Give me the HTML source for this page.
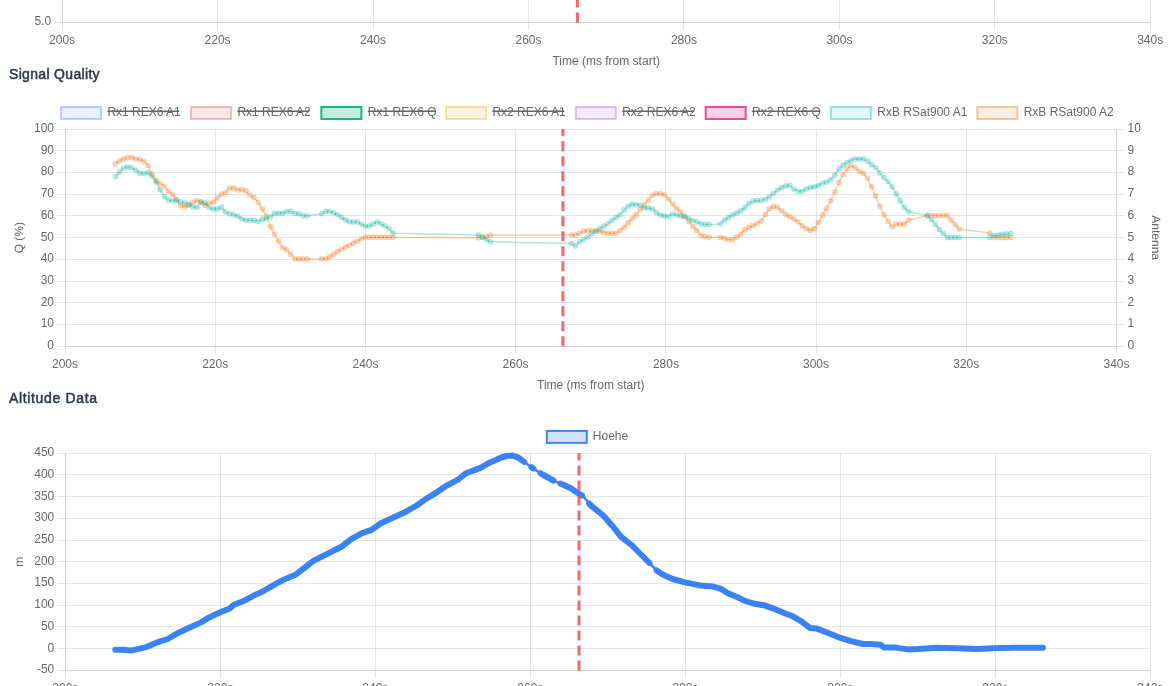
<!DOCTYPE html>
<html><head><meta charset="utf-8"><title>Flight Log</title>
<style>
html,body{margin:0;padding:0;background:#fff;width:1170px;height:686px;overflow:hidden}
svg{display:block;will-change:transform}
.t{font-family:"Liberation Sans",sans-serif;font-size:12px;fill:#666}
.h{font-family:"Liberation Sans",sans-serif;font-size:14px;font-weight:normal;fill:#2d3748;stroke:#2d3748;stroke-width:0.5px}
</style></head><body>
<svg width="1170" height="686" viewBox="0 0 1170 686">
<line x1="62.5" y1="-5" x2="62.5" y2="30" stroke="rgba(0,0,0,0.1)"/>
<text x="62.1" y="44.3" text-anchor="middle" class="t">200s</text>
<line x1="217.5" y1="-5" x2="217.5" y2="30" stroke="rgba(0,0,0,0.1)"/>
<text x="217.6" y="44.3" text-anchor="middle" class="t">220s</text>
<line x1="373.5" y1="-5" x2="373.5" y2="30" stroke="rgba(0,0,0,0.1)"/>
<text x="373" y="44.3" text-anchor="middle" class="t">240s</text>
<line x1="528.5" y1="-5" x2="528.5" y2="30" stroke="rgba(0,0,0,0.1)"/>
<text x="528.5" y="44.3" text-anchor="middle" class="t">260s</text>
<line x1="683.5" y1="-5" x2="683.5" y2="30" stroke="rgba(0,0,0,0.1)"/>
<text x="683.9" y="44.3" text-anchor="middle" class="t">280s</text>
<line x1="839.5" y1="-5" x2="839.5" y2="30" stroke="rgba(0,0,0,0.1)"/>
<text x="839.4" y="44.3" text-anchor="middle" class="t">300s</text>
<line x1="994.5" y1="-5" x2="994.5" y2="30" stroke="rgba(0,0,0,0.1)"/>
<text x="994.8" y="44.3" text-anchor="middle" class="t">320s</text>
<line x1="1150.5" y1="-5" x2="1150.5" y2="30" stroke="rgba(0,0,0,0.1)"/>
<text x="1150.2" y="44.3" text-anchor="middle" class="t">340s</text>
<line x1="54.1" y1="22.5" x2="1150.5" y2="22.5" stroke="rgba(0,0,0,0.1)"/>
<line x1="62.5" y1="22.5" x2="1150.5" y2="22.5" stroke="#cfcfcf"/>
<line x1="62.5" y1="-5" x2="62.5" y2="22.5" stroke="#cfcfcf"/>
<text x="51.1" y="25.2" text-anchor="end" class="t">5.0</text>
<text x="606.2" y="65.4" text-anchor="middle" class="t">Time (ms from start)</text>
<text x="9" y="78.5" class="h" textLength="90.6" lengthAdjust="spacing">Signal Quality</text>
<text x="8.9" y="402.9" class="h" textLength="88.1" lengthAdjust="spacing">Altitude Data</text>
<line x1="57" y1="346.5" x2="1124.5" y2="346.5" stroke="rgba(0,0,0,0.1)"/>
<text x="54" y="349.2" text-anchor="end" class="t">0</text>
<text x="1127.5" y="349.2" class="t">0</text>
<line x1="57" y1="324.5" x2="1124.5" y2="324.5" stroke="rgba(0,0,0,0.1)"/>
<text x="54" y="327.4" text-anchor="end" class="t">10</text>
<text x="1127.5" y="327.4" class="t">1</text>
<line x1="57" y1="302.5" x2="1124.5" y2="302.5" stroke="rgba(0,0,0,0.1)"/>
<text x="54" y="305.7" text-anchor="end" class="t">20</text>
<text x="1127.5" y="305.7" class="t">2</text>
<line x1="57" y1="281.5" x2="1124.5" y2="281.5" stroke="rgba(0,0,0,0.1)"/>
<text x="54" y="284" text-anchor="end" class="t">30</text>
<text x="1127.5" y="284" class="t">3</text>
<line x1="57" y1="259.5" x2="1124.5" y2="259.5" stroke="rgba(0,0,0,0.1)"/>
<text x="54" y="262.3" text-anchor="end" class="t">40</text>
<text x="1127.5" y="262.3" class="t">4</text>
<line x1="57" y1="237.5" x2="1124.5" y2="237.5" stroke="rgba(0,0,0,0.1)"/>
<text x="54" y="240.6" text-anchor="end" class="t">50</text>
<text x="1127.5" y="240.6" class="t">5</text>
<line x1="57" y1="215.5" x2="1124.5" y2="215.5" stroke="rgba(0,0,0,0.1)"/>
<text x="54" y="218.8" text-anchor="end" class="t">60</text>
<text x="1127.5" y="218.8" class="t">6</text>
<line x1="57" y1="194.5" x2="1124.5" y2="194.5" stroke="rgba(0,0,0,0.1)"/>
<text x="54" y="197.1" text-anchor="end" class="t">70</text>
<text x="1127.5" y="197.1" class="t">7</text>
<line x1="57" y1="172.5" x2="1124.5" y2="172.5" stroke="rgba(0,0,0,0.1)"/>
<text x="54" y="175.4" text-anchor="end" class="t">80</text>
<text x="1127.5" y="175.4" class="t">8</text>
<line x1="57" y1="150.5" x2="1124.5" y2="150.5" stroke="rgba(0,0,0,0.1)"/>
<text x="54" y="153.7" text-anchor="end" class="t">90</text>
<text x="1127.5" y="153.7" class="t">9</text>
<line x1="57" y1="129.5" x2="1124.5" y2="129.5" stroke="rgba(0,0,0,0.1)"/>
<text x="54" y="132" text-anchor="end" class="t">100</text>
<text x="1127.5" y="132" class="t">10</text>
<line x1="65.5" y1="129.5" x2="65.5" y2="354" stroke="rgba(0,0,0,0.1)"/>
<text x="65" y="368.2" text-anchor="middle" class="t">200s</text>
<line x1="215.5" y1="129.5" x2="215.5" y2="354" stroke="rgba(0,0,0,0.1)"/>
<text x="215.2" y="368.2" text-anchor="middle" class="t">220s</text>
<line x1="365.5" y1="129.5" x2="365.5" y2="354" stroke="rgba(0,0,0,0.1)"/>
<text x="365.5" y="368.2" text-anchor="middle" class="t">240s</text>
<line x1="515.5" y1="129.5" x2="515.5" y2="354" stroke="rgba(0,0,0,0.1)"/>
<text x="515.6" y="368.2" text-anchor="middle" class="t">260s</text>
<line x1="665.5" y1="129.5" x2="665.5" y2="354" stroke="rgba(0,0,0,0.1)"/>
<text x="665.9" y="368.2" text-anchor="middle" class="t">280s</text>
<line x1="816.5" y1="129.5" x2="816.5" y2="354" stroke="rgba(0,0,0,0.1)"/>
<text x="816" y="368.2" text-anchor="middle" class="t">300s</text>
<line x1="966.5" y1="129.5" x2="966.5" y2="354" stroke="rgba(0,0,0,0.1)"/>
<text x="966.2" y="368.2" text-anchor="middle" class="t">320s</text>
<line x1="1116.5" y1="129.5" x2="1116.5" y2="354" stroke="rgba(0,0,0,0.1)"/>
<text x="1116.5" y="368.2" text-anchor="middle" class="t">340s</text>
<line x1="65.5" y1="129.5" x2="65.5" y2="346.5" stroke="#cfcfcf"/>
<line x1="1116.5" y1="129.5" x2="1116.5" y2="346.5" stroke="#cfcfcf"/>
<line x1="65.5" y1="346.5" x2="1116.5" y2="346.5" stroke="#cfcfcf"/>
<text x="590.8" y="389.3" text-anchor="middle" class="t">Time (ms from start)</text>
<text transform="translate(23.3 237.7) rotate(-90)" text-anchor="middle" class="t" text-rendering="geometricPrecision">Q (%)</text>
<text transform="translate(1152.3 237.7) rotate(90)" text-anchor="middle" class="t" text-rendering="geometricPrecision">Antenna</text>
<rect x="61" y="107" width="40" height="12" fill="rgba(59,130,246,0.12)" stroke="rgba(59,130,246,0.35)" stroke-width="2"/>
<text x="107.4" y="116" class="t">Rx1 REX6 A1</text>
<line x1="107.4" y1="111.3" x2="179.3" y2="111.3" stroke="#666" stroke-width="1.5"/>
<rect x="191" y="107" width="40" height="12" fill="rgba(239,68,68,0.12)" stroke="rgba(239,68,68,0.35)" stroke-width="2"/>
<text x="237.4" y="116" class="t">Rx1 REX6 A2</text>
<line x1="237.4" y1="111.3" x2="309.3" y2="111.3" stroke="#666" stroke-width="1.5"/>
<rect x="321.4" y="107" width="40" height="12" fill="rgba(16,185,129,0.25)" stroke="#10b981" stroke-width="2"/>
<text x="367.8" y="116" class="t">Rx1 REX6 Q</text>
<line x1="367.8" y1="111.3" x2="435" y2="111.3" stroke="#666" stroke-width="1.5"/>
<rect x="446" y="107" width="40" height="12" fill="rgba(245,158,11,0.12)" stroke="rgba(245,158,11,0.35)" stroke-width="2"/>
<text x="492.4" y="116" class="t">Rx2 REX6 A1</text>
<line x1="492.4" y1="111.3" x2="564.3" y2="111.3" stroke="#666" stroke-width="1.5"/>
<rect x="575.8" y="107" width="40" height="12" fill="rgba(139,92,246,0.12)" stroke="rgba(139,92,246,0.35)" stroke-width="2"/>
<text x="622.2" y="116" class="t">Rx2 REX6 A2</text>
<line x1="622.2" y1="111.3" x2="694.1" y2="111.3" stroke="#666" stroke-width="1.5"/>
<rect x="705.7" y="107" width="40" height="12" fill="rgba(236,72,153,0.25)" stroke="#ec4899" stroke-width="2"/>
<text x="752.1" y="116" class="t">Rx2 REX6 Q</text>
<line x1="752.1" y1="111.3" x2="819.3" y2="111.3" stroke="#666" stroke-width="1.5"/>
<rect x="830.9" y="107" width="40" height="12" fill="rgba(20,184,166,0.12)" stroke="rgba(20,184,166,0.4)" stroke-width="2"/>
<text x="877.3" y="116" class="t">RxB RSat900 A1</text>
<rect x="977.3" y="107" width="40" height="12" fill="rgba(249,115,22,0.12)" stroke="rgba(249,115,22,0.4)" stroke-width="2"/>
<text x="1023.7" y="116" class="t">RxB RSat900 A2</text>
<polyline points="115.3,163.7 119.4,160.9 123.5,158.9 127.5,157.6 131.6,157.5 135.7,159 139.8,159.4 143.9,161.3 148,165.5 152,174.1 156.1,180.4 160.2,183.8 164.3,186.3 168.4,190.9 172.5,194.8 176.5,200 180.6,205.8 184.7,207 188.8,205.2 192.9,202.5 197,200.5 201,202 205.1,205.5 209.2,203.2 213.3,202.2 217.4,197.7 221.5,194 225.5,192.4 229.6,188.1 233.7,188 237.8,189.9 241.9,189.6 246,191 250,195.1 254.1,197.5 258.2,202.5 262.3,208.9 266.4,216.2 270.5,226.8 274.5,234.3 278.6,241.2 282.7,247.6 286.8,249.8 290.9,254.4 295,259 299,259 303.1,259 307.2,259 321.7,259 325.7,259 329.6,257.1 333.6,254.4 337.5,251.6 341.5,249.2 345.5,247.2 349.4,245.2 353.4,243.2 357.4,241.2 361.3,238.7 365.3,237.3 369.2,237.3 373.2,237.3 377.2,237.3 381.1,237.3 385.1,237.3 389,237.3 393,237.3 478.5,237.7 482.5,237.4 486.5,236.4 490.5,235.1 571.5,235 575.5,235 579.6,233.2 583.6,230.9 587.7,230.8 591.7,230.8 595.8,231 599.8,231.2 603.9,232.3 607.9,233.3 611.9,233.3 616,233.1 620,230.6 624.1,227.3 628.1,222.8 632.2,218.5 636.2,214.6 640.2,209.6 644.3,204.7 648.3,199.7 652.4,195.3 656.4,193.7 660.5,193.7 664.5,194.8 668.6,199.1 672.6,204 676.6,208.5 680.7,212.1 684.7,216.4 688.8,221.3 692.8,226.4 696.9,230.5 700.9,235.5 705,236.5 709,237.3 720.3,237.3 724.4,238.4 728.5,239.6 732.6,239.5 736.7,237.2 740.7,234.1 744.8,229.8 748.9,227.6 753,225.5 757.1,223.4 761.2,220.9 765.3,214.8 769.4,208.7 773.5,206.4 777.5,207.4 781.6,210.8 785.7,214.4 789.8,216.8 793.9,219.1 798,221.9 802.1,225.8 806.2,228.5 810.3,230.6 814.3,228.6 818.4,222.4 822.5,215.1 826.6,208.4 830.7,200.8 834.8,191.9 838.9,182.7 843,174.5 847.1,168.8 851.2,165.4 855.2,167.9 859.3,171.4 863.4,173.5 867.5,178.2 871.6,186.6 875.7,196.1 879.8,206.2 883.9,214.7 888,221.4 892,226.8 896.1,224 900.2,224.1 904.3,224.2 908.4,220.1 927.5,215.6 931.4,215.6 935.4,215.6 939.3,215.6 943.2,215.6 947.2,215.6 951.1,220.3 955.1,224.4 959,228.9 989.7,233 993.9,237.5 998,237.5 1002.2,237.5 1006.3,237.5 1010.5,237.5" fill="none" stroke="rgba(249,115,22,0.35)" stroke-width="1.5" stroke-linejoin="round"/>
<g fill="rgba(249,115,22,0.25)" stroke="rgba(249,115,22,0.25)" stroke-width="1">
<circle cx="115.3" cy="163.7" r="2.5"/>
<circle cx="119.4" cy="160.9" r="2.5"/>
<circle cx="123.5" cy="158.9" r="2.5"/>
<circle cx="127.5" cy="157.6" r="2.5"/>
<circle cx="131.6" cy="157.5" r="2.5"/>
<circle cx="135.7" cy="159" r="2.5"/>
<circle cx="139.8" cy="159.4" r="2.5"/>
<circle cx="143.9" cy="161.3" r="2.5"/>
<circle cx="148" cy="165.5" r="2.5"/>
<circle cx="152" cy="174.1" r="2.5"/>
<circle cx="156.1" cy="180.4" r="2.5"/>
<circle cx="160.2" cy="183.8" r="2.5"/>
<circle cx="164.3" cy="186.3" r="2.5"/>
<circle cx="168.4" cy="190.9" r="2.5"/>
<circle cx="172.5" cy="194.8" r="2.5"/>
<circle cx="176.5" cy="200" r="2.5"/>
<circle cx="180.6" cy="205.8" r="2.5"/>
<circle cx="184.7" cy="207" r="2.5"/>
<circle cx="188.8" cy="205.2" r="2.5"/>
<circle cx="192.9" cy="202.5" r="2.5"/>
<circle cx="197" cy="200.5" r="2.5"/>
<circle cx="201" cy="202" r="2.5"/>
<circle cx="205.1" cy="205.5" r="2.5"/>
<circle cx="209.2" cy="203.2" r="2.5"/>
<circle cx="213.3" cy="202.2" r="2.5"/>
<circle cx="217.4" cy="197.7" r="2.5"/>
<circle cx="221.5" cy="194" r="2.5"/>
<circle cx="225.5" cy="192.4" r="2.5"/>
<circle cx="229.6" cy="188.1" r="2.5"/>
<circle cx="233.7" cy="188" r="2.5"/>
<circle cx="237.8" cy="189.9" r="2.5"/>
<circle cx="241.9" cy="189.6" r="2.5"/>
<circle cx="246" cy="191" r="2.5"/>
<circle cx="250" cy="195.1" r="2.5"/>
<circle cx="254.1" cy="197.5" r="2.5"/>
<circle cx="258.2" cy="202.5" r="2.5"/>
<circle cx="262.3" cy="208.9" r="2.5"/>
<circle cx="266.4" cy="216.2" r="2.5"/>
<circle cx="270.5" cy="226.8" r="2.5"/>
<circle cx="274.5" cy="234.3" r="2.5"/>
<circle cx="278.6" cy="241.2" r="2.5"/>
<circle cx="282.7" cy="247.6" r="2.5"/>
<circle cx="286.8" cy="249.8" r="2.5"/>
<circle cx="290.9" cy="254.4" r="2.5"/>
<circle cx="295" cy="259" r="2.5"/>
<circle cx="299" cy="259" r="2.5"/>
<circle cx="303.1" cy="259" r="2.5"/>
<circle cx="307.2" cy="259" r="2.5"/>
<circle cx="321.7" cy="259" r="2.5"/>
<circle cx="325.7" cy="259" r="2.5"/>
<circle cx="329.6" cy="257.1" r="2.5"/>
<circle cx="333.6" cy="254.4" r="2.5"/>
<circle cx="337.5" cy="251.6" r="2.5"/>
<circle cx="341.5" cy="249.2" r="2.5"/>
<circle cx="345.5" cy="247.2" r="2.5"/>
<circle cx="349.4" cy="245.2" r="2.5"/>
<circle cx="353.4" cy="243.2" r="2.5"/>
<circle cx="357.4" cy="241.2" r="2.5"/>
<circle cx="361.3" cy="238.7" r="2.5"/>
<circle cx="365.3" cy="237.3" r="2.5"/>
<circle cx="369.2" cy="237.3" r="2.5"/>
<circle cx="373.2" cy="237.3" r="2.5"/>
<circle cx="377.2" cy="237.3" r="2.5"/>
<circle cx="381.1" cy="237.3" r="2.5"/>
<circle cx="385.1" cy="237.3" r="2.5"/>
<circle cx="389" cy="237.3" r="2.5"/>
<circle cx="393" cy="237.3" r="2.5"/>
<circle cx="478.5" cy="237.7" r="2.5"/>
<circle cx="482.5" cy="237.4" r="2.5"/>
<circle cx="486.5" cy="236.4" r="2.5"/>
<circle cx="490.5" cy="235.1" r="2.5"/>
<circle cx="571.5" cy="235" r="2.5"/>
<circle cx="575.5" cy="235" r="2.5"/>
<circle cx="579.6" cy="233.2" r="2.5"/>
<circle cx="583.6" cy="230.9" r="2.5"/>
<circle cx="587.7" cy="230.8" r="2.5"/>
<circle cx="591.7" cy="230.8" r="2.5"/>
<circle cx="595.8" cy="231" r="2.5"/>
<circle cx="599.8" cy="231.2" r="2.5"/>
<circle cx="603.9" cy="232.3" r="2.5"/>
<circle cx="607.9" cy="233.3" r="2.5"/>
<circle cx="611.9" cy="233.3" r="2.5"/>
<circle cx="616" cy="233.1" r="2.5"/>
<circle cx="620" cy="230.6" r="2.5"/>
<circle cx="624.1" cy="227.3" r="2.5"/>
<circle cx="628.1" cy="222.8" r="2.5"/>
<circle cx="632.2" cy="218.5" r="2.5"/>
<circle cx="636.2" cy="214.6" r="2.5"/>
<circle cx="640.2" cy="209.6" r="2.5"/>
<circle cx="644.3" cy="204.7" r="2.5"/>
<circle cx="648.3" cy="199.7" r="2.5"/>
<circle cx="652.4" cy="195.3" r="2.5"/>
<circle cx="656.4" cy="193.7" r="2.5"/>
<circle cx="660.5" cy="193.7" r="2.5"/>
<circle cx="664.5" cy="194.8" r="2.5"/>
<circle cx="668.6" cy="199.1" r="2.5"/>
<circle cx="672.6" cy="204" r="2.5"/>
<circle cx="676.6" cy="208.5" r="2.5"/>
<circle cx="680.7" cy="212.1" r="2.5"/>
<circle cx="684.7" cy="216.4" r="2.5"/>
<circle cx="688.8" cy="221.3" r="2.5"/>
<circle cx="692.8" cy="226.4" r="2.5"/>
<circle cx="696.9" cy="230.5" r="2.5"/>
<circle cx="700.9" cy="235.5" r="2.5"/>
<circle cx="705" cy="236.5" r="2.5"/>
<circle cx="709" cy="237.3" r="2.5"/>
<circle cx="720.3" cy="237.3" r="2.5"/>
<circle cx="724.4" cy="238.4" r="2.5"/>
<circle cx="728.5" cy="239.6" r="2.5"/>
<circle cx="732.6" cy="239.5" r="2.5"/>
<circle cx="736.7" cy="237.2" r="2.5"/>
<circle cx="740.7" cy="234.1" r="2.5"/>
<circle cx="744.8" cy="229.8" r="2.5"/>
<circle cx="748.9" cy="227.6" r="2.5"/>
<circle cx="753" cy="225.5" r="2.5"/>
<circle cx="757.1" cy="223.4" r="2.5"/>
<circle cx="761.2" cy="220.9" r="2.5"/>
<circle cx="765.3" cy="214.8" r="2.5"/>
<circle cx="769.4" cy="208.7" r="2.5"/>
<circle cx="773.5" cy="206.4" r="2.5"/>
<circle cx="777.5" cy="207.4" r="2.5"/>
<circle cx="781.6" cy="210.8" r="2.5"/>
<circle cx="785.7" cy="214.4" r="2.5"/>
<circle cx="789.8" cy="216.8" r="2.5"/>
<circle cx="793.9" cy="219.1" r="2.5"/>
<circle cx="798" cy="221.9" r="2.5"/>
<circle cx="802.1" cy="225.8" r="2.5"/>
<circle cx="806.2" cy="228.5" r="2.5"/>
<circle cx="810.3" cy="230.6" r="2.5"/>
<circle cx="814.3" cy="228.6" r="2.5"/>
<circle cx="818.4" cy="222.4" r="2.5"/>
<circle cx="822.5" cy="215.1" r="2.5"/>
<circle cx="826.6" cy="208.4" r="2.5"/>
<circle cx="830.7" cy="200.8" r="2.5"/>
<circle cx="834.8" cy="191.9" r="2.5"/>
<circle cx="838.9" cy="182.7" r="2.5"/>
<circle cx="843" cy="174.5" r="2.5"/>
<circle cx="847.1" cy="168.8" r="2.5"/>
<circle cx="851.2" cy="165.4" r="2.5"/>
<circle cx="855.2" cy="167.9" r="2.5"/>
<circle cx="859.3" cy="171.4" r="2.5"/>
<circle cx="863.4" cy="173.5" r="2.5"/>
<circle cx="867.5" cy="178.2" r="2.5"/>
<circle cx="871.6" cy="186.6" r="2.5"/>
<circle cx="875.7" cy="196.1" r="2.5"/>
<circle cx="879.8" cy="206.2" r="2.5"/>
<circle cx="883.9" cy="214.7" r="2.5"/>
<circle cx="888" cy="221.4" r="2.5"/>
<circle cx="892" cy="226.8" r="2.5"/>
<circle cx="896.1" cy="224" r="2.5"/>
<circle cx="900.2" cy="224.1" r="2.5"/>
<circle cx="904.3" cy="224.2" r="2.5"/>
<circle cx="908.4" cy="220.1" r="2.5"/>
<circle cx="927.5" cy="215.6" r="2.5"/>
<circle cx="931.4" cy="215.6" r="2.5"/>
<circle cx="935.4" cy="215.6" r="2.5"/>
<circle cx="939.3" cy="215.6" r="2.5"/>
<circle cx="943.2" cy="215.6" r="2.5"/>
<circle cx="947.2" cy="215.6" r="2.5"/>
<circle cx="951.1" cy="220.3" r="2.5"/>
<circle cx="955.1" cy="224.4" r="2.5"/>
<circle cx="959" cy="228.9" r="2.5"/>
<circle cx="989.7" cy="233" r="2.5"/>
<circle cx="993.9" cy="237.5" r="2.5"/>
<circle cx="998" cy="237.5" r="2.5"/>
<circle cx="1002.2" cy="237.5" r="2.5"/>
<circle cx="1006.3" cy="237.5" r="2.5"/>
<circle cx="1010.5" cy="237.5" r="2.5"/>
</g>
<polyline points="115.3,176.7 119.4,172 123.5,168.1 127.5,166.7 131.6,167.5 135.7,170.2 139.8,173.1 143.9,173.6 148,172.7 152,176.2 156.1,181.9 160.2,189.8 164.3,196.6 168.4,200.1 172.5,200.8 176.5,200.1 180.6,201.7 184.7,202.7 188.8,204.2 192.9,206.9 197,207.4 201,202.1 205.1,202.7 209.2,207.6 213.3,209.1 217.4,208.9 221.5,207.2 225.5,211.9 229.6,213.8 233.7,214.5 237.8,216.3 241.9,218.9 246,220.2 250,220.2 254.1,220.2 258.2,221.5 262.3,219.4 266.4,218.4 270.5,216.9 274.5,213.4 278.6,213.3 282.7,213.3 286.8,211.6 290.9,211.4 295,213.6 299,213.8 303.1,215.8 307.2,215.9 321.7,213.8 325.7,211.3 329.6,211.5 333.6,212.8 337.5,214.8 341.5,217.5 345.5,220 349.4,221.7 353.4,221.9 357.4,221.9 361.3,224.1 365.3,226.1 369.2,225.9 373.2,223.9 377.2,222 381.1,223.8 385.1,226.1 389,228.6 393,233.3 478.5,234.9 482.5,236.9 486.5,239.8 490.5,241.8 571.5,243.6 575.5,245.9 579.6,241.7 583.6,239.4 587.7,237.1 591.7,233.7 595.8,231 599.8,228.6 603.9,226.1 607.9,223.6 611.9,220.3 616,217.4 620,214.7 624.1,209.9 628.1,206.2 632.2,204.3 636.2,204.6 640.2,205.3 644.3,207.9 648.3,208.1 652.4,209 656.4,212.4 660.5,215.1 664.5,216 668.6,216.2 672.6,214 676.6,215.1 680.7,216.2 684.7,216.6 688.8,218.3 692.8,220.5 696.9,221.7 700.9,223.8 705,224.4 709,224.4 720.3,223.9 724.4,220 728.5,217.5 732.6,215.1 736.7,213.1 740.7,210.7 744.8,207.6 748.9,203.5 753,201.3 757.1,200.4 761.2,200.4 765.3,199.2 769.4,197 773.5,193.5 777.5,190 781.6,187.5 785.7,186 789.8,185.2 793.9,189 798,191.2 802.1,191.6 806.2,189.1 810.3,187.4 814.3,186.8 818.4,185.4 822.5,183.2 826.6,182.2 830.7,179.8 834.8,175.1 838.9,169 843,165.2 847.1,162.6 851.2,160.3 855.2,158.9 859.3,158.9 863.4,158.9 867.5,161 871.6,164.7 875.7,167.7 879.8,173 883.9,177.7 888,181.7 892,187 896.1,193.9 900.2,200.8 904.3,207.5 908.4,211.5 927.5,215.6 931.4,219.8 935.4,224.4 939.3,229.5 943.2,233.5 947.2,237.5 951.1,237.5 955.1,237.5 959,237.5 989.7,237.5 993.9,235.4 998,234.7 1002.2,234.3 1006.3,233.9 1010.5,233.5" fill="none" stroke="rgba(20,184,166,0.35)" stroke-width="1.5" stroke-linejoin="round"/>
<g fill="rgba(20,184,166,0.25)" stroke="rgba(20,184,166,0.25)" stroke-width="1">
<circle cx="115.3" cy="176.7" r="2.5"/>
<circle cx="119.4" cy="172" r="2.5"/>
<circle cx="123.5" cy="168.1" r="2.5"/>
<circle cx="127.5" cy="166.7" r="2.5"/>
<circle cx="131.6" cy="167.5" r="2.5"/>
<circle cx="135.7" cy="170.2" r="2.5"/>
<circle cx="139.8" cy="173.1" r="2.5"/>
<circle cx="143.9" cy="173.6" r="2.5"/>
<circle cx="148" cy="172.7" r="2.5"/>
<circle cx="152" cy="176.2" r="2.5"/>
<circle cx="156.1" cy="181.9" r="2.5"/>
<circle cx="160.2" cy="189.8" r="2.5"/>
<circle cx="164.3" cy="196.6" r="2.5"/>
<circle cx="168.4" cy="200.1" r="2.5"/>
<circle cx="172.5" cy="200.8" r="2.5"/>
<circle cx="176.5" cy="200.1" r="2.5"/>
<circle cx="180.6" cy="201.7" r="2.5"/>
<circle cx="184.7" cy="202.7" r="2.5"/>
<circle cx="188.8" cy="204.2" r="2.5"/>
<circle cx="192.9" cy="206.9" r="2.5"/>
<circle cx="197" cy="207.4" r="2.5"/>
<circle cx="201" cy="202.1" r="2.5"/>
<circle cx="205.1" cy="202.7" r="2.5"/>
<circle cx="209.2" cy="207.6" r="2.5"/>
<circle cx="213.3" cy="209.1" r="2.5"/>
<circle cx="217.4" cy="208.9" r="2.5"/>
<circle cx="221.5" cy="207.2" r="2.5"/>
<circle cx="225.5" cy="211.9" r="2.5"/>
<circle cx="229.6" cy="213.8" r="2.5"/>
<circle cx="233.7" cy="214.5" r="2.5"/>
<circle cx="237.8" cy="216.3" r="2.5"/>
<circle cx="241.9" cy="218.9" r="2.5"/>
<circle cx="246" cy="220.2" r="2.5"/>
<circle cx="250" cy="220.2" r="2.5"/>
<circle cx="254.1" cy="220.2" r="2.5"/>
<circle cx="258.2" cy="221.5" r="2.5"/>
<circle cx="262.3" cy="219.4" r="2.5"/>
<circle cx="266.4" cy="218.4" r="2.5"/>
<circle cx="270.5" cy="216.9" r="2.5"/>
<circle cx="274.5" cy="213.4" r="2.5"/>
<circle cx="278.6" cy="213.3" r="2.5"/>
<circle cx="282.7" cy="213.3" r="2.5"/>
<circle cx="286.8" cy="211.6" r="2.5"/>
<circle cx="290.9" cy="211.4" r="2.5"/>
<circle cx="295" cy="213.6" r="2.5"/>
<circle cx="299" cy="213.8" r="2.5"/>
<circle cx="303.1" cy="215.8" r="2.5"/>
<circle cx="307.2" cy="215.9" r="2.5"/>
<circle cx="321.7" cy="213.8" r="2.5"/>
<circle cx="325.7" cy="211.3" r="2.5"/>
<circle cx="329.6" cy="211.5" r="2.5"/>
<circle cx="333.6" cy="212.8" r="2.5"/>
<circle cx="337.5" cy="214.8" r="2.5"/>
<circle cx="341.5" cy="217.5" r="2.5"/>
<circle cx="345.5" cy="220" r="2.5"/>
<circle cx="349.4" cy="221.7" r="2.5"/>
<circle cx="353.4" cy="221.9" r="2.5"/>
<circle cx="357.4" cy="221.9" r="2.5"/>
<circle cx="361.3" cy="224.1" r="2.5"/>
<circle cx="365.3" cy="226.1" r="2.5"/>
<circle cx="369.2" cy="225.9" r="2.5"/>
<circle cx="373.2" cy="223.9" r="2.5"/>
<circle cx="377.2" cy="222" r="2.5"/>
<circle cx="381.1" cy="223.8" r="2.5"/>
<circle cx="385.1" cy="226.1" r="2.5"/>
<circle cx="389" cy="228.6" r="2.5"/>
<circle cx="393" cy="233.3" r="2.5"/>
<circle cx="478.5" cy="234.9" r="2.5"/>
<circle cx="482.5" cy="236.9" r="2.5"/>
<circle cx="486.5" cy="239.8" r="2.5"/>
<circle cx="490.5" cy="241.8" r="2.5"/>
<circle cx="571.5" cy="243.6" r="2.5"/>
<circle cx="575.5" cy="245.9" r="2.5"/>
<circle cx="579.6" cy="241.7" r="2.5"/>
<circle cx="583.6" cy="239.4" r="2.5"/>
<circle cx="587.7" cy="237.1" r="2.5"/>
<circle cx="591.7" cy="233.7" r="2.5"/>
<circle cx="595.8" cy="231" r="2.5"/>
<circle cx="599.8" cy="228.6" r="2.5"/>
<circle cx="603.9" cy="226.1" r="2.5"/>
<circle cx="607.9" cy="223.6" r="2.5"/>
<circle cx="611.9" cy="220.3" r="2.5"/>
<circle cx="616" cy="217.4" r="2.5"/>
<circle cx="620" cy="214.7" r="2.5"/>
<circle cx="624.1" cy="209.9" r="2.5"/>
<circle cx="628.1" cy="206.2" r="2.5"/>
<circle cx="632.2" cy="204.3" r="2.5"/>
<circle cx="636.2" cy="204.6" r="2.5"/>
<circle cx="640.2" cy="205.3" r="2.5"/>
<circle cx="644.3" cy="207.9" r="2.5"/>
<circle cx="648.3" cy="208.1" r="2.5"/>
<circle cx="652.4" cy="209" r="2.5"/>
<circle cx="656.4" cy="212.4" r="2.5"/>
<circle cx="660.5" cy="215.1" r="2.5"/>
<circle cx="664.5" cy="216" r="2.5"/>
<circle cx="668.6" cy="216.2" r="2.5"/>
<circle cx="672.6" cy="214" r="2.5"/>
<circle cx="676.6" cy="215.1" r="2.5"/>
<circle cx="680.7" cy="216.2" r="2.5"/>
<circle cx="684.7" cy="216.6" r="2.5"/>
<circle cx="688.8" cy="218.3" r="2.5"/>
<circle cx="692.8" cy="220.5" r="2.5"/>
<circle cx="696.9" cy="221.7" r="2.5"/>
<circle cx="700.9" cy="223.8" r="2.5"/>
<circle cx="705" cy="224.4" r="2.5"/>
<circle cx="709" cy="224.4" r="2.5"/>
<circle cx="720.3" cy="223.9" r="2.5"/>
<circle cx="724.4" cy="220" r="2.5"/>
<circle cx="728.5" cy="217.5" r="2.5"/>
<circle cx="732.6" cy="215.1" r="2.5"/>
<circle cx="736.7" cy="213.1" r="2.5"/>
<circle cx="740.7" cy="210.7" r="2.5"/>
<circle cx="744.8" cy="207.6" r="2.5"/>
<circle cx="748.9" cy="203.5" r="2.5"/>
<circle cx="753" cy="201.3" r="2.5"/>
<circle cx="757.1" cy="200.4" r="2.5"/>
<circle cx="761.2" cy="200.4" r="2.5"/>
<circle cx="765.3" cy="199.2" r="2.5"/>
<circle cx="769.4" cy="197" r="2.5"/>
<circle cx="773.5" cy="193.5" r="2.5"/>
<circle cx="777.5" cy="190" r="2.5"/>
<circle cx="781.6" cy="187.5" r="2.5"/>
<circle cx="785.7" cy="186" r="2.5"/>
<circle cx="789.8" cy="185.2" r="2.5"/>
<circle cx="793.9" cy="189" r="2.5"/>
<circle cx="798" cy="191.2" r="2.5"/>
<circle cx="802.1" cy="191.6" r="2.5"/>
<circle cx="806.2" cy="189.1" r="2.5"/>
<circle cx="810.3" cy="187.4" r="2.5"/>
<circle cx="814.3" cy="186.8" r="2.5"/>
<circle cx="818.4" cy="185.4" r="2.5"/>
<circle cx="822.5" cy="183.2" r="2.5"/>
<circle cx="826.6" cy="182.2" r="2.5"/>
<circle cx="830.7" cy="179.8" r="2.5"/>
<circle cx="834.8" cy="175.1" r="2.5"/>
<circle cx="838.9" cy="169" r="2.5"/>
<circle cx="843" cy="165.2" r="2.5"/>
<circle cx="847.1" cy="162.6" r="2.5"/>
<circle cx="851.2" cy="160.3" r="2.5"/>
<circle cx="855.2" cy="158.9" r="2.5"/>
<circle cx="859.3" cy="158.9" r="2.5"/>
<circle cx="863.4" cy="158.9" r="2.5"/>
<circle cx="867.5" cy="161" r="2.5"/>
<circle cx="871.6" cy="164.7" r="2.5"/>
<circle cx="875.7" cy="167.7" r="2.5"/>
<circle cx="879.8" cy="173" r="2.5"/>
<circle cx="883.9" cy="177.7" r="2.5"/>
<circle cx="888" cy="181.7" r="2.5"/>
<circle cx="892" cy="187" r="2.5"/>
<circle cx="896.1" cy="193.9" r="2.5"/>
<circle cx="900.2" cy="200.8" r="2.5"/>
<circle cx="904.3" cy="207.5" r="2.5"/>
<circle cx="908.4" cy="211.5" r="2.5"/>
<circle cx="927.5" cy="215.6" r="2.5"/>
<circle cx="931.4" cy="219.8" r="2.5"/>
<circle cx="935.4" cy="224.4" r="2.5"/>
<circle cx="939.3" cy="229.5" r="2.5"/>
<circle cx="943.2" cy="233.5" r="2.5"/>
<circle cx="947.2" cy="237.5" r="2.5"/>
<circle cx="951.1" cy="237.5" r="2.5"/>
<circle cx="955.1" cy="237.5" r="2.5"/>
<circle cx="959" cy="237.5" r="2.5"/>
<circle cx="989.7" cy="237.5" r="2.5"/>
<circle cx="993.9" cy="235.4" r="2.5"/>
<circle cx="998" cy="234.7" r="2.5"/>
<circle cx="1002.2" cy="234.3" r="2.5"/>
<circle cx="1006.3" cy="233.9" r="2.5"/>
<circle cx="1010.5" cy="233.5" r="2.5"/>
</g>
<line x1="57.3" y1="670.5" x2="1150.5" y2="670.5" stroke="rgba(0,0,0,0.1)"/>
<text x="54.3" y="673.2" text-anchor="end" class="t">-50</text>
<line x1="57.3" y1="648.5" x2="1150.5" y2="648.5" stroke="rgba(0,0,0,0.1)"/>
<text x="54.3" y="651.5" text-anchor="end" class="t">0</text>
<line x1="57.3" y1="626.5" x2="1150.5" y2="626.5" stroke="rgba(0,0,0,0.1)"/>
<text x="54.3" y="629.8" text-anchor="end" class="t">50</text>
<line x1="57.3" y1="605.5" x2="1150.5" y2="605.5" stroke="rgba(0,0,0,0.1)"/>
<text x="54.3" y="608.1" text-anchor="end" class="t">100</text>
<line x1="57.3" y1="583.5" x2="1150.5" y2="583.5" stroke="rgba(0,0,0,0.1)"/>
<text x="54.3" y="586.4" text-anchor="end" class="t">150</text>
<line x1="57.3" y1="561.5" x2="1150.5" y2="561.5" stroke="rgba(0,0,0,0.1)"/>
<text x="54.3" y="564.6" text-anchor="end" class="t">200</text>
<line x1="57.3" y1="540.5" x2="1150.5" y2="540.5" stroke="rgba(0,0,0,0.1)"/>
<text x="54.3" y="542.9" text-anchor="end" class="t">250</text>
<line x1="57.3" y1="518.5" x2="1150.5" y2="518.5" stroke="rgba(0,0,0,0.1)"/>
<text x="54.3" y="521.2" text-anchor="end" class="t">300</text>
<line x1="57.3" y1="496.5" x2="1150.5" y2="496.5" stroke="rgba(0,0,0,0.1)"/>
<text x="54.3" y="499.5" text-anchor="end" class="t">350</text>
<line x1="57.3" y1="474.5" x2="1150.5" y2="474.5" stroke="rgba(0,0,0,0.1)"/>
<text x="54.3" y="477.8" text-anchor="end" class="t">400</text>
<line x1="57.3" y1="453.5" x2="1150.5" y2="453.5" stroke="rgba(0,0,0,0.1)"/>
<text x="54.3" y="456.1" text-anchor="end" class="t">450</text>
<line x1="65.5" y1="453.5" x2="65.5" y2="678" stroke="rgba(0,0,0,0.1)"/>
<text x="65.3" y="692.3" text-anchor="middle" class="t">200s</text>
<line x1="220.5" y1="453.5" x2="220.5" y2="678" stroke="rgba(0,0,0,0.1)"/>
<text x="220.3" y="692.3" text-anchor="middle" class="t">220s</text>
<line x1="375.5" y1="453.5" x2="375.5" y2="678" stroke="rgba(0,0,0,0.1)"/>
<text x="375.3" y="692.3" text-anchor="middle" class="t">240s</text>
<line x1="530.5" y1="453.5" x2="530.5" y2="678" stroke="rgba(0,0,0,0.1)"/>
<text x="530.3" y="692.3" text-anchor="middle" class="t">260s</text>
<line x1="685.5" y1="453.5" x2="685.5" y2="678" stroke="rgba(0,0,0,0.1)"/>
<text x="685.3" y="692.3" text-anchor="middle" class="t">280s</text>
<line x1="840.5" y1="453.5" x2="840.5" y2="678" stroke="rgba(0,0,0,0.1)"/>
<text x="840.3" y="692.3" text-anchor="middle" class="t">300s</text>
<line x1="995.5" y1="453.5" x2="995.5" y2="678" stroke="rgba(0,0,0,0.1)"/>
<text x="995.3" y="692.3" text-anchor="middle" class="t">320s</text>
<line x1="1150.5" y1="453.5" x2="1150.5" y2="678" stroke="rgba(0,0,0,0.1)"/>
<text x="1150.3" y="692.3" text-anchor="middle" class="t">340s</text>
<line x1="65.5" y1="453.5" x2="65.5" y2="670.5" stroke="#cfcfcf"/>
<line x1="65.5" y1="670.5" x2="1150.5" y2="670.5" stroke="#cfcfcf"/>
<text transform="translate(23.2 561.8) rotate(-90)" text-anchor="middle" class="t" text-rendering="geometricPrecision">m</text>
<rect x="546.8" y="430.9" width="40" height="12" fill="rgba(59,130,246,0.25)" stroke="#3b82f6" stroke-width="2"/>
<text x="592.8" y="440" class="t">Hoehe</text>
<polyline points="115.3,649.7 122.6,649.7 131,650.6 145.1,647.4 156.4,642.7 167.7,639 179,632.4 190.3,627.3 201.5,622.1 209.1,617.4 220.3,612.3 229.7,608.5 233.5,605.1 244.8,600.4 254.2,595.4 263.6,591 274.9,584.4 282.4,580.3 295.6,574.7 305,567.5 313.2,561 328.2,553.4 341.4,546.8 350.8,539.3 362.1,533.1 371.5,529.9 380.9,523.3 394,517.3 405.3,512.1 416.6,505.5 426,498.9 435.4,493.2 444.8,486.7 458,479.7 465.5,473.5 480.5,467.9 488,463.5 501.2,457.5 506.8,456 512.5,455.6 518.4,457.7 525,462.5 532.6,468 542.5,474.5 554.5,481.1 562.1,484.3 570.9,488.3 577.4,492.7 584,497 590.5,505.1 603.7,516 612.4,525.9 621.1,536.8 632.1,545.5 643,556.5 650.7,564.1 656.1,570.2 660,572.8 667,576.6 672.5,579 685,582.4 698.7,585.1 700.5,585.5 712.5,586.4 721,588.9 727.9,593.2 738.1,597.5 745,600.9 753.5,603.5 763.8,605.2 775.7,609.4 786,613.7 792.8,616.3 801.4,621.4 809.9,627.9 816.8,628.6 827,632.5 837.3,636.8 850.9,641.1 862.9,644 870.3,643.9 880.5,644.8 883.9,647.4 894.2,647.4 907.9,649.4 918.1,649.1 936.9,647.7 955.7,648.2 978,649.1 993.3,648.2 1013.8,647.7 1042.9,647.7" fill="none" stroke="#3b82f6" stroke-width="2.5" stroke-linejoin="round" stroke-linecap="round"/>
<polyline points="115.3,649.7 122.6,649.7 131,650.6 145.1,647.4 156.4,642.7 167.7,639 179,632.4 190.3,627.3 201.5,622.1 209.1,617.4 220.3,612.3 229.7,608.5 233.5,605.1 244.8,600.4 254.2,595.4 263.6,591 274.9,584.4 282.4,580.3 295.6,574.7 305,567.5 313.2,561 328.2,553.4 341.4,546.8 350.8,539.3 362.1,533.1 371.5,529.9 380.9,523.3 394,517.3 405.3,512.1 416.6,505.5 426,498.9 435.4,493.2 444.8,486.7 458,479.7 465.5,473.5 480.5,467.9 488,463.5 501.2,457.5 506.8,456 512.5,455.6 518.4,457.7 524.2,461.9" fill="none" stroke="#3b82f6" stroke-width="6" stroke-linejoin="round" stroke-linecap="round"/>
<polyline points="531.4,467.1 532.6,468 533.3,468.5" fill="none" stroke="#3b82f6" stroke-width="6" stroke-linejoin="round" stroke-linecap="round"/>
<polyline points="540.5,473.2 542.5,474.5 553.4,480.5" fill="none" stroke="#3b82f6" stroke-width="6" stroke-linejoin="round" stroke-linecap="round"/>
<polyline points="560.6,483.7 562.1,484.3 570.9,488.3 577.4,492.7 581.9,495.6" fill="none" stroke="#3b82f6" stroke-width="6" stroke-linejoin="round" stroke-linecap="round"/>
<polyline points="589.1,503.4 590.5,505.1 603.7,516 612.4,525.9 621.1,536.8 632.1,545.5 643,556.5 649.4,562.8" fill="none" stroke="#3b82f6" stroke-width="6" stroke-linejoin="round" stroke-linecap="round"/>
<polyline points="656.6,570.5 660,572.8 667,576.6 672.5,579 685,582.4 698.7,585.1 700.5,585.5 712.5,586.4 721,588.9 727.9,593.2 738.1,597.5 745,600.9 753.5,603.5 763.8,605.2 775.7,609.4 786,613.7 792.8,616.3 801.4,621.4 809.9,627.9 816.8,628.6 827,632.5 837.3,636.8 850.9,641.1 862.9,644 870.3,643.9 880.5,644.8 883.9,647.4 894.2,647.4 907.9,649.4 918.1,649.1 936.9,647.7 955.7,648.2 978,649.1 993.3,648.2 1013.8,647.7 1042.9,647.7" fill="none" stroke="#3b82f6" stroke-width="6" stroke-linejoin="round" stroke-linecap="round"/>
<line x1="577.4" y1="22.4" x2="577.4" y2="-20" stroke="rgba(239,68,68,0.8)" stroke-width="3" stroke-dasharray="10 5"/>
<line x1="562.9" y1="346.3" x2="562.9" y2="129.1" stroke="rgba(239,68,68,0.8)" stroke-width="3" stroke-dasharray="10 5"/>
<line x1="579" y1="670.4" x2="579" y2="453.2" stroke="rgba(239,68,68,0.8)" stroke-width="3" stroke-dasharray="10 5"/>
</svg>
</body></html>
